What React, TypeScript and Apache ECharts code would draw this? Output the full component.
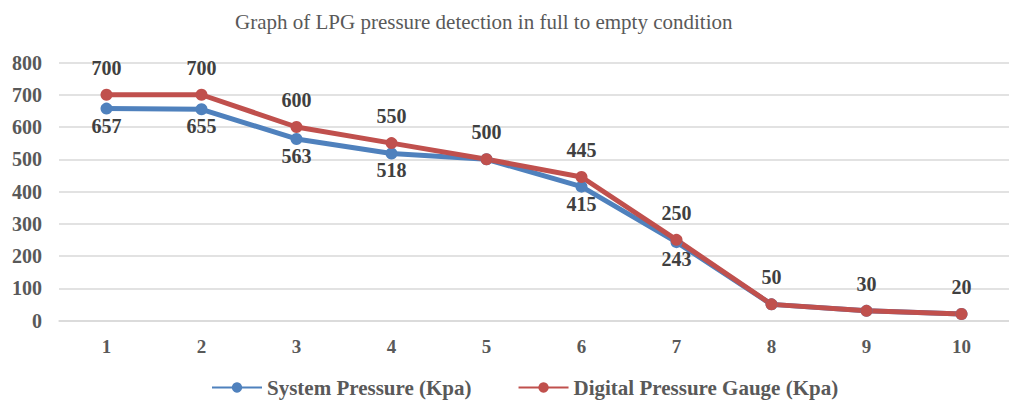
import React, { useEffect, useRef } from "react";
import * as echarts from "echarts";

const categories = ["1", "2", "3", "4", "5", "6", "7", "8", "9", "10"];
const systemPressure = [657, 655, 563, 518, 500, 415, 243, 50, 30, 20];
const systemLabelShown = [true, true, true, true, false, true, true, false, false, false];
const gaugePressure = [700, 700, 600, 550, 500, 445, 250, 50, 30, 20];
const yTicks = { min: 0, max: 800, interval: 100 };

const FONT = "'Liberation Serif', 'Times New Roman', serif";
const TEXT = "#595959";

export default function App() {
  const ref = useRef<HTMLDivElement>(null);
  useEffect(() => {
    document.body.style.margin = "0";
    const chart = echarts.init(ref.current!, null, { renderer: "svg" });
    chart.setOption({
      animation: false,
      backgroundColor: "#ffffff",
      title: {
        text: "Graph of LPG pressure detection in full to empty condition",
        left: 230,
        top: 6,
        textStyle: { fontFamily: FONT, fontSize: 21, fontWeight: "normal", color: TEXT },
      },
      legend: {
        left: 206,
        top: 372,
        itemWidth: 50,
        itemHeight: 13,
        itemGap: 46,
        textStyle: { fontFamily: FONT, fontSize: 21, fontWeight: "bold", color: TEXT },
        data: ["System Pressure (Kpa)", "Digital Pressure Gauge (Kpa)"],
      },
      grid: { left: 59, top: 62.5, width: 961, height: 258 },
      xAxis: {
        type: "category",
        data: categories,
        boundaryGap: true,
        axisLine: { lineStyle: { color: "#d9d9d9", width: 1.5 } },
        axisTick: { show: false },
        axisLabel: { fontFamily: FONT, fontSize: 19, fontWeight: "bold", color: TEXT, margin: 16 },
      },
      yAxis: {
        type: "value",
        min: yTicks.min,
        max: yTicks.max,
        interval: yTicks.interval,
        axisLine: { show: false },
        axisTick: { show: false },
        splitLine: { lineStyle: { color: "#d9d9d9", width: 1.5 } },
        axisLabel: { fontFamily: FONT, fontSize: 20, fontWeight: "bold", color: TEXT, margin: 17 },
      },
      series: [
        {
          name: "System Pressure (Kpa)",
          type: "line",
          data: systemPressure.map((v, i) => ({
            value: v,
            label: { show: systemLabelShown[i] },
          })),
          color: "#4F81BD",
          lineStyle: { width: 5, color: "#4F81BD" },
          symbol: "circle",
          symbolSize: 12,
          itemStyle: { color: "#4F81BD" },
          label: {
            position: "bottom",
            distance: 1,
            fontFamily: FONT,
            fontSize: 20,
            fontWeight: "bold",
            color: "#404040",
          },
        },
        {
          name: "Digital Pressure Gauge (Kpa)",
          type: "line",
          data: gaugePressure,
          color: "#C0504D",
          lineStyle: { width: 5, color: "#C0504D" },
          symbol: "circle",
          symbolSize: 12,
          itemStyle: { color: "#C0504D" },
          label: {
            show: true,
            position: "top",
            distance: 11,
            fontFamily: FONT,
            fontSize: 20,
            fontWeight: "bold",
            color: "#404040",
          },
        },
      ],
    });
    return () => chart.dispose();
  }, []);
  return <div ref={ref} style={{ width: 1009, height: 403 }} />;
}
